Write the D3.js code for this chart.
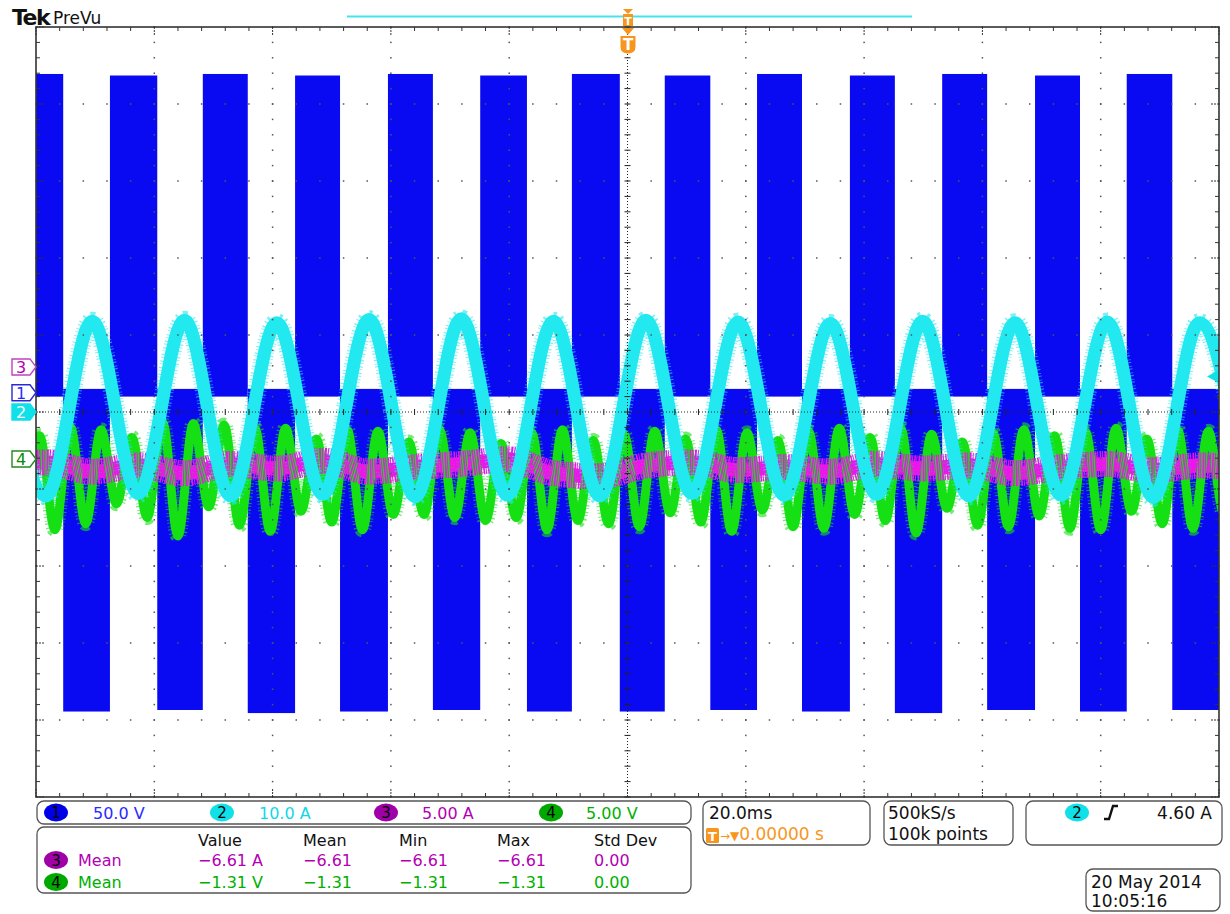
<!DOCTYPE html>
<html>
<head>
<meta charset="utf-8">
<script src="https://cdn.jsdelivr.net/npm/d3@7"></script>
<style>
  body { margin: 0; background: #fff; }
  svg text { font-family: "DejaVu Sans", "Liberation Sans", sans-serif; }
</style>
</head>
<body>
<svg id="chart" width="1230" height="914"></svg>
<script>
/* global d3 */

// time axis: 20.0 ms/div, trigger at centre
const TIME_DOMAIN = [-100, 100];

// CH1 (50 V/div): switching bursts, block edges in ms and burst level in V
const ch1Edges = [-100, -95.4, -87.5, -79.5, -71.8, -64.2, -56.2, -48.6, -40.5, -32.9, -24.9, -17.0, -9.4,
  -1.3, 6.3, 14.0, 21.9, 29.5, 37.6, 45.2, 53.2, 60.8, 68.9, 76.5, 84.4, 92.1, 100];
const ch1Levels = [207, -207, 206, -206, 207, -208, 206, -207, 207, -206, 206, -207, 207,
  -207, 206, -206, 207, -207, 206, -208, 207, -206, 206, -207, 207, -206];

// CH2 (10 A/div): peaks and troughs of the current, ms / A
const ch2Times = [-106.1, -98.3, -90.5, -82.7, -74.9, -67.1, -59.3, -51.5, -43.7, -35.9, -28.1, -20.3, -12.5, -4.7,
  3.1, 10.9, 18.7, 26.5, 34.3, 42.1, 49.9, 57.7, 65.5, 73.3, 81.1, 88.9, 96.7, 104.5];
const ch2Values = [11.7, -10.9, 11.8, -10.6, 11.9, -10.9, 11.6, -10.7, 12.0, -11.0, 12.1, -10.8, 11.8, -10.9,
  11.9, -10.6, 11.7, -10.8, 11.5, -10.7, 11.8, -10.9, 11.6, -10.8, 11.7, -11.1, 11.6, -10.8];

// CH3 (5 A/div): small ripple around the mean, ms / A
const ch3Times = ch2Times;
const ch3Values = [-6.5, -6.2, -6.8, -6.4, -6.9, -6.3, -6.6, -6.1, -6.8, -6.5, -6.3, -6.0, -6.9, -7.1,
  -6.4, -6.2, -6.7, -6.5, -6.8, -6.3, -6.6, -6.4, -6.9, -6.5, -6.3, -6.7, -6.4, -6.6];

// CH4 (5 V/div): third-harmonic-like voltage, ms / V
const ch4Times = [
  -112.4, -109.8, -107.2, -104.6, -102.0, -99.4,
  -96.8, -94.2, -91.6, -89.0, -86.4, -83.8,
  -81.2, -78.6, -76.0, -73.4, -70.8, -68.2,
  -65.6, -63.0, -60.4, -57.8, -55.2, -52.6,
  -50.0, -47.4, -44.8, -42.2, -39.6, -37.0,
  -34.4, -31.8, -29.2, -26.6, -24.0, -21.4,
  -18.8, -16.2, -13.6, -11.0, -8.4, -5.8,
  -3.2, -0.6, 2.0, 4.6, 7.2, 9.8,
  12.4, 15.0, 17.6, 20.2, 22.8, 25.4,
  28.0, 30.6, 33.2, 35.8, 38.4, 41.0,
  43.6, 46.2, 48.8, 51.4, 54.0, 56.6,
  59.2, 61.8, 64.4, 67.0, 69.6, 72.2,
  74.8, 77.4, 80.0, 82.6, 85.2, 87.8,
  90.4, 93.0, 95.6, 98.2, 100.8, 103.4];
const ch4Values = [
  -4.0, 1.8, -4.3, 1.9, -3.3, 1.5,
  -4.6, 2.1, -4.2, 1.9, -2.9, 1.4,
  -3.8, 2.4, -5.0, 2.3, -3.1, 2.2,
  -4.3, 2.0, -4.7, 2.0, -3.4, 1.3,
  -4.1, 1.9, -4.6, 1.8, -3.6, 1.1,
  -3.6, 1.9, -3.8, 1.7, -4.0, 1.0,
  -3.8, 1.7, -4.6, 1.9, -4.0, 1.2,
  -4.2, 1.6, -4.4, 1.8, -3.5, 1.3,
  -4.1, 1.9, -4.7, 1.7, -3.3, 1.2,
  -4.4, 1.8, -4.5, 2.0, -3.6, 1.4,
  -4.0, 2.0, -4.8, 1.6, -3.2, 1.1,
  -4.3, 1.7, -4.4, 1.9, -3.7, 1.5,
  -4.5, 1.8, -4.6, 2.0, -3.4, 1.3,
  -4.2, 1.9, -4.5, 1.8, -3.5, 1.2];

// readouts
const channelLabels = ["1", "2", "3", "4"];
const scaleLabels = ["50.0 V", "10.0 A", "5.00 A", "5.00 V"];
const measHeaders = ["Value", "Mean", "Min", "Max", "Std Dev"];
const measRows = [
  { ch: "3", name: "Mean", cells: ["\u22126.61 A", "\u22126.61", "\u22126.61", "\u22126.61", "0.00"] },
  { ch: "4", name: "Mean", cells: ["\u22121.31 V", "\u22121.31", "\u22121.31", "\u22121.31", "0.00"] },
];

const COLORS = {
  ch1: "#0a0af2", ch2: "#22e8f0", ch3: "#f012f0", ch4: "#14e014",
  txt1: "#2a2aff", txt2: "#10d8e8", txt3: "#b400b4", txt4: "#00b000",
  badge1: "#0000e8", badge2: "#10e0e8", badge3: "#a000a8", badge4: "#00a800",
  orange: "#f7961e", frame: "#333",
};

const PLOT = { left: 36, right: 1219, top: 27, bottom: 797 };
// volts/amps per division and position of the ground marker, in divisions from centre
const CH = {
  1: { perDiv: 50, pos: 0.25 },
  2: { perDiv: 10, pos: 0 },
  3: { perDiv: 5, pos: 0.585 },
  4: { perDiv: 5, pos: -0.61 },
};

const svg = d3.select("#chart");

const x = d3.scaleLinear().domain(TIME_DOMAIN).range([PLOT.left, PLOT.right]);
const xDiv = d3.scaleLinear().domain([-5, 5]).range([PLOT.left, PLOT.right]);
const yDiv = d3.scaleLinear().domain([5, -5]).range([PLOT.top, PLOT.bottom]);
const yCh = (n) => (v) => yDiv(CH[n].pos + v / CH[n].perDiv);

const minorSteps = d3.range(-5, 5.0001, 0.2).map((d) => +d.toFixed(1));
const majorSteps = d3.range(-4, 5, 1).filter((d) => d !== 0);

svg.append("rect").attr("width", 1230).attr("height", 914).attr("fill", "#fff");

svg.append("defs").append("clipPath").attr("id", "plot-clip")
  .append("rect")
  .attr("x", PLOT.left).attr("y", PLOT.top)
  .attr("width", PLOT.right - PLOT.left).attr("height", PLOT.bottom - PLOT.top);

const plot = svg.append("g").attr("clip-path", "url(#plot-clip)");

// ---- CH1 bursts
const y1 = yCh(1);
const blocks = ch1Levels.map((level, i) => ({ t0: ch1Edges[i], t1: ch1Edges[i + 1], level }));
plot.append("g").selectAll("rect")
  .data(blocks)
  .join("rect")
  .attr("x", (d) => x(d.t0))
  .attr("width", (d) => x(d.t1) - x(d.t0))
  .attr("y", (d) => (d.level > 0 ? y1(d.level) : y1(2.5)))
  .attr("height", (d) => (d.level > 0 ? y1(-2.5) - y1(d.level) : y1(d.level) - y1(2.5)))
  .attr("fill", COLORS.ch1);

// ---- graticule
const grid = svg.append("g").attr("fill", "#555");
majorSteps.forEach((k) => {
  grid.selectAll(null).data(minorSteps).join("rect")
    .attr("x", xDiv(k) - 0.75).attr("y", (m) => yDiv(m) - 0.75)
    .attr("width", 1.5).attr("height", 1.5);
  grid.selectAll(null).data(minorSteps).join("rect")
    .attr("x", (m) => xDiv(m) - 0.75).attr("y", yDiv(k) - 0.75)
    .attr("width", 1.5).attr("height", 1.5);
});

const centre = svg.append("g").attr("stroke", "#222").attr("stroke-width", 1);
centre.append("line")
  .attr("x1", PLOT.left).attr("x2", PLOT.right).attr("y1", yDiv(0)).attr("y2", yDiv(0))
  .attr("stroke-dasharray", "1,2");
centre.append("line")
  .attr("x1", xDiv(0)).attr("x2", xDiv(0)).attr("y1", PLOT.top).attr("y2", PLOT.bottom)
  .attr("stroke-dasharray", "1,2");
centre.selectAll(null).data(minorSteps).join("line")
  .attr("x1", (m) => xDiv(m)).attr("x2", (m) => xDiv(m))
  .attr("y1", yDiv(0) - 3).attr("y2", yDiv(0) + 3);
centre.selectAll(null).data(minorSteps).join("line")
  .attr("y1", (m) => yDiv(m)).attr("y2", (m) => yDiv(m))
  .attr("x1", xDiv(0) - 3).attr("x2", xDiv(0) + 3);

// ---- traces: a solid core and a fuzzy halo for the sampling noise
function tracePath(times, values, n) {
  const y = yCh(n);
  const pts = times.map((t, i) => [t, values[i]]);
  return d3.line().x((d) => x(d[0])).y((d) => y(d[1])).curve(d3.curveMonotoneX)(pts);
}
function core(d, color, width) {
  plot.append("path").attr("d", d).attr("fill", "none").attr("stroke", color)
    .attr("stroke-width", width).attr("stroke-linejoin", "round");
}
function fuzz(d, color, width, dash, opacity) {
  plot.append("path").attr("d", d).attr("fill", "none").attr("stroke", color)
    .attr("stroke-width", width).attr("stroke-dasharray", dash).attr("opacity", opacity);
}

const path2 = tracePath(ch2Times, ch2Values, 2);
const path3 = tracePath(ch3Times, ch3Values, 3);
const path4 = tracePath(ch4Times, ch4Values, 4);

core(path3, COLORS.ch3, 14);
fuzz(path4, COLORS.ch4, 15, "0.8,1.7,1.2,2.9", 0.6);
core(path4, COLORS.ch4, 9);
fuzz(path3, COLORS.ch3, 26, "1.6,0.8,1.0,1.3", 1);
fuzz(path2, COLORS.ch2, 19, "0.8,1.7,1.2,2.9", 0.6);
core(path2, COLORS.ch2, 13);

// ---- frame and edge ticks
const frame = svg.append("g").attr("stroke", COLORS.frame).attr("fill", "none");
frame.append("rect")
  .attr("x", PLOT.left).attr("y", PLOT.top)
  .attr("width", PLOT.right - PLOT.left).attr("height", PLOT.bottom - PLOT.top)
  .attr("stroke-width", 1.6);
const edgeTicks = svg.append("g").attr("stroke", "#333").attr("stroke-width", 1);
minorSteps.forEach((m) => {
  const major = Math.abs(m - Math.round(m)) < 1e-6;
  const len = major ? 8 : 4;
  edgeTicks.append("line").attr("x1", xDiv(m)).attr("x2", xDiv(m))
    .attr("y1", PLOT.top).attr("y2", PLOT.top + len).attr("stroke-dasharray", major ? "2,1" : null);
  edgeTicks.append("line").attr("x1", xDiv(m)).attr("x2", xDiv(m))
    .attr("y1", PLOT.bottom).attr("y2", PLOT.bottom - len).attr("stroke-dasharray", major ? "2,1" : null);
  edgeTicks.append("line").attr("y1", yDiv(m)).attr("y2", yDiv(m))
    .attr("x1", PLOT.left).attr("x2", PLOT.left + len).attr("stroke-dasharray", major ? "2,1" : null);
  edgeTicks.append("line").attr("y1", yDiv(m)).attr("y2", yDiv(m))
    .attr("x1", PLOT.right).attr("x2", PLOT.right - len).attr("stroke-dasharray", major ? "2,1" : null);
});

// ---- header
svg.append("text").attr("x", 12).attr("y", 25)
  .attr("font-size", 22).attr("font-weight", "bold").attr("letter-spacing", -1.5)
  .attr("fill", "#111").text("Tek");
svg.append("text").attr("x", 53).attr("y", 24)
  .attr("font-size", 17).attr("fill", "#111").text("PreVu");
svg.append("line").attr("x1", 347).attr("x2", 912).attr("y1", 16.5).attr("y2", 16.5)
  .attr("stroke", "#44e4ec").attr("stroke-width", 2);

// trigger position markers
const tx = x(0) + 0.5;
svg.append("path").attr("d", `M${tx - 5},9 L${tx + 5},9 L${tx},14 Z`).attr("fill", COLORS.orange);
svg.append("rect").attr("x", tx - 5).attr("y", 14).attr("width", 10).attr("height", 12).attr("fill", COLORS.orange);
svg.append("text").attr("x", tx).attr("y", 24.5).attr("text-anchor", "middle")
  .attr("font-size", 11).attr("font-weight", "bold").attr("fill", "#fff").text("T");
svg.append("path").attr("d", `M${tx - 6},28 L${tx + 6},28 L${tx},35 Z`).attr("fill", COLORS.orange);
svg.append("path")
  .attr("d", `M${tx - 7.5},36 L${tx + 7.5},36 L${tx + 7.5},47 Q${tx + 7.5},53 ${tx},53.5 Q${tx - 7.5},53 ${tx - 7.5},47 Z`)
  .attr("fill", COLORS.orange);
svg.append("text").attr("x", tx).attr("y", 50).attr("text-anchor", "middle")
  .attr("font-size", 15).attr("font-weight", "bold").attr("fill", "#fff").text("T");

// ground markers on the left
const markers = [
  { label: "3", y: yCh(3)(0), stroke: "#c040c0", fill: "#fff", text: COLORS.txt3 },
  { label: "1", y: yCh(1)(0), stroke: "#2a2ad0", fill: "#fff", text: COLORS.txt1 },
  { label: "2", y: yCh(2)(0), stroke: COLORS.badge2, fill: COLORS.badge2, text: "#fff" },
  { label: "4", y: yCh(4)(0), stroke: "#208a20", fill: "#fff", text: "#0a8a0a" },
];
const mk = svg.append("g").selectAll("g").data(markers).join("g")
  .attr("transform", (d) => `translate(0,${d.y})`);
mk.append("path")
  .attr("d", "M12,-8 L30,-8 L36,0 L30,8 L12,8 Z")
  .attr("fill", (d) => d.fill).attr("stroke", (d) => d.stroke).attr("stroke-width", 1.4);
mk.append("text").attr("x", 21).attr("y", 6).attr("text-anchor", "middle")
  .attr("font-size", 16).attr("fill", (d) => d.text).text((d) => d.label);

// trigger level marker on the right
const yTrig = yCh(2)(4.6);
svg.append("path").attr("d", `M1207,${yTrig} L1218,${yTrig - 6} L1218,${yTrig + 6} Z`).attr("fill", COLORS.badge2);

// ---- readout panels
const panels = svg.append("g").attr("fill", "#fff").attr("stroke", "#555").attr("stroke-width", 1.3);
[
  [37, 801, 654, 23], [37, 827, 654, 66], [703, 801, 167, 44],
  [884, 801, 129, 44], [1026, 801, 196, 44], [1086, 869, 134, 42],
].forEach(([px, py, w, h]) => {
  panels.append("rect").attr("x", px).attr("y", py).attr("width", w).attr("height", h).attr("rx", 7);
});

function badge(cx, cy, label, fill) {
  svg.append("ellipse").attr("cx", cx).attr("cy", cy).attr("rx", 12).attr("ry", 9).attr("fill", fill);
  svg.append("text").attr("x", cx).attr("y", cy + 5.5).attr("text-anchor", "middle")
    .attr("font-size", 15).attr("fill", "#000").text(label);
}

const badgeX = [56, 222, 386, 551];
const scaleX = [93, 259, 422, 586];
const txtCols = [COLORS.txt1, COLORS.txt2, COLORS.txt3, COLORS.txt4];
const badgeCols = [COLORS.badge1, COLORS.badge2, COLORS.badge3, COLORS.badge4];
channelLabels.forEach((lab, i) => {
  badge(badgeX[i], 812.5, lab, badgeCols[i]);
  svg.append("text").attr("x", scaleX[i]).attr("y", 818.5)
    .attr("font-size", 16).attr("fill", txtCols[i]).text(scaleLabels[i]);
});

const colX = [198, 303, 399, 497, 594];
measHeaders.forEach((h, i) => {
  svg.append("text").attr("x", colX[i]).attr("y", 846).attr("font-size", 16).attr("fill", "#111").text(h);
});
measRows.forEach((row, r) => {
  const yy = 860 + r * 22;
  const col = row.ch === "3" ? COLORS.txt3 : COLORS.txt4;
  badge(56, yy, row.ch, row.ch === "3" ? COLORS.badge3 : COLORS.badge4);
  svg.append("text").attr("x", 78).attr("y", yy + 6).attr("font-size", 16).attr("fill", col).text(row.name);
  row.cells.forEach((c, i) => {
    svg.append("text").attr("x", colX[i]).attr("y", yy + 6).attr("font-size", 16).attr("fill", col).text(c);
  });
});

// timebase
svg.append("text").attr("x", 709).attr("y", 819).attr("font-size", 17).attr("fill", "#111").text("20.0ms");
svg.append("rect").attr("x", 706).attr("y", 828).attr("width", 13).attr("height", 15).attr("rx", 1.5).attr("fill", COLORS.orange);
svg.append("text").attr("x", 712.5).attr("y", 841).attr("text-anchor", "middle")
  .attr("font-size", 13).attr("font-weight", "bold").attr("fill", "#fff").text("T");
svg.append("text").attr("x", 720).attr("y", 840).attr("font-size", 17).attr("fill", COLORS.orange)
  .call((t) => {
    t.append("tspan").attr("font-size", 12).text("\u2192");
    t.append("tspan").attr("font-size", 12).text("\u25BC");
    t.append("tspan").text("0.00000 s");
  });

// acquisition
svg.append("text").attr("x", 888).attr("y", 819).attr("font-size", 17).attr("fill", "#111").text("500kS/s");
svg.append("text").attr("x", 888).attr("y", 840).attr("font-size", 17).attr("fill", "#111").text("100k points");

// trigger
badge(1077, 812.5, "2", COLORS.badge2);
svg.append("path").attr("d", "M1104,819 L1109,819 L1113,806 L1118,806")
  .attr("fill", "none").attr("stroke", "#111").attr("stroke-width", 2.4);
svg.append("text").attr("x", 1212).attr("y", 819).attr("text-anchor", "end")
  .attr("font-size", 17).attr("fill", "#111").text("4.60 A");

// date
svg.append("text").attr("x", 1091).attr("y", 888).attr("font-size", 17).attr("fill", "#111").text("20 May 2014");
svg.append("text").attr("x", 1091).attr("y", 907).attr("font-size", 17).attr("fill", "#111").text("10:05:16");
</script>
</body>
</html>
